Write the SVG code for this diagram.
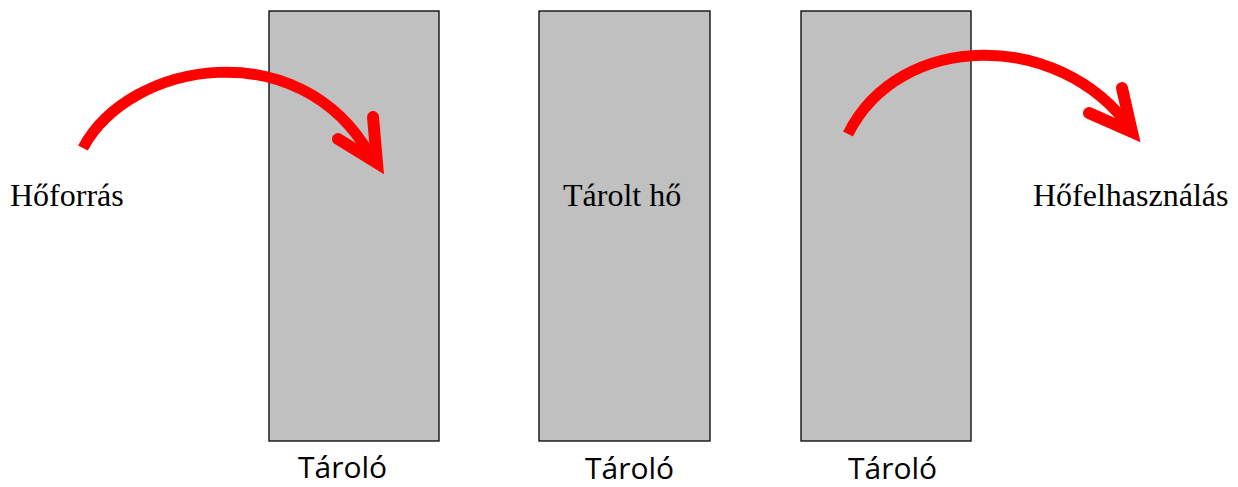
<svg xmlns="http://www.w3.org/2000/svg" width="1238" height="487" viewBox="0 0 1238 487">
<style>
.box{fill:#c0c0c0;stroke:#000;stroke-width:1.3}
.serif{font-family:"Liberation Serif","Times New Roman",serif;font-size:32px;fill:#000}
.sans{font-family:"Open Sans","Noto Sans",sans-serif;font-size:30px;fill:#000}
.arr{fill:none;stroke:#ff0000;stroke-width:11}
.head{fill:none;stroke:#ff0000;stroke-width:12;stroke-linecap:round;stroke-linejoin:miter;stroke-miterlimit:10}
</style>
<rect width="1238" height="487" fill="#fff"/>
<g id="tarolo1"><rect class="box" x="269" y="11" width="170" height="430"/><text class="sans" x="298" y="478">Tároló</text></g>
<g id="tarolo2"><rect class="box" x="539" y="11" width="171" height="430"/><text class="serif" x="563" y="206">Tárolt hő</text><text class="sans" x="585" y="479">Tároló</text></g>
<g id="tarolo3"><rect class="box" x="801" y="11" width="170" height="430"/><text class="sans" x="848" y="479">Tároló</text></g>
<g id="hoforras"><text class="serif" x="10" y="206">Hőforrás</text></g>
<g id="hofelhasznalas"><text class="serif" x="1033" y="206">Hőfelhasználás</text></g>
<g id="connectors">
<path class="arr" d="M83,148 C130,60 300,32 370,155"/>
<polyline class="head" points="373,117 377,163 338,139"/>
<path class="arr" d="M848,134 C900,30 1060,30 1130,128"/>
<polyline class="head" points="1122,88 1132,132 1089,113"/>
</g>
</svg>
